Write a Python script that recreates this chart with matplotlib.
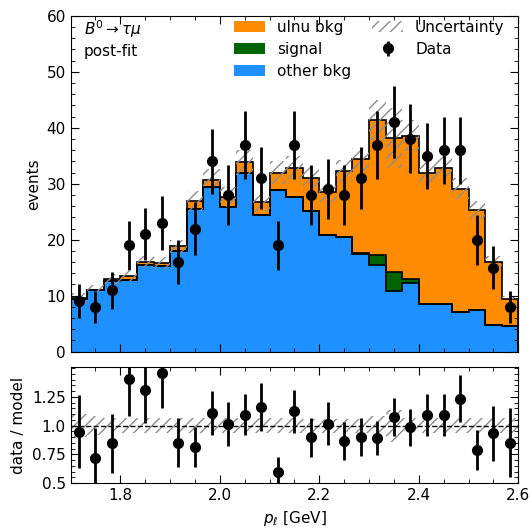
import numpy as np
import matplotlib
matplotlib.use('Agg')
import matplotlib.pyplot as plt
from matplotlib.ticker import MultipleLocator, FixedLocator, FixedFormatter

# binning in lepton momentum
edges = np.linspace(1.7, 2.6, 28)
centers = 0.5*(edges[:-1] + edges[1:])

other_bkg = [9.4, 11.0, 12.6, 12.8, 15.5, 15.3, 18.0, 25.4, 29.5, 25.8, 32.0, 24.4, 28.8, 27.7,
             25.2, 20.9, 20.5, 17.4, 15.4, 10.9, 12.3, 8.5, 8.5, 7.1, 7.4, 4.8, 4.5]
signal = [0, 0, 0, 0, 0, 0, 0, 0, 0, 0, 0, 0, 0, 0,
          0, 0, 0, 0.2, 1.9, 3.3, 0.7, 0.1, 0.1, 0.05, 0.05, 0, 0]
ulnu_bkg = [0.1, 0.1, 0.4, 0.7, 0.5, 0.5, 0.8, 1.5, 1.2, 1.9, 1.8, 2.3, 3.2, 5.2,
            5.9, 7.6, 11.8, 16.8, 24.1, 24.0, 25.6, 23.4, 24.3, 22.0, 17.9, 11.3, 4.9]
data = [9, 8, 11, 19, 21, 23, 16, 22, 34, 28, 37, 31, 19, 37,
        28, 29, 28, 31, 37, 41, 38, 35, 36, 36, 20, 15, 8]
rel_unc = [0.10, 0.08, 0.065, 0.065, 0.065, 0.065, 0.065, 0.065, 0.065, 0.065, 0.065, 0.065, 0.065, 0.065,
           0.06, 0.06, 0.06, 0.06, 0.085, 0.14, 0.07, 0.065, 0.065, 0.065, 0.065, 0.065, 0.065]

plt.rcParams['font.family'] = 'DejaVu Sans'
plt.rcParams['font.size'] = 11
plt.rcParams['hatch.linewidth'] = 1.0

other = np.array(other_bkg)
sig = np.array(signal)
ulnu = np.array(ulnu_bkg)
dat = np.array(data, dtype=float)
rel = np.array(rel_unc)

lvl1 = other
lvl2 = other + sig
total = lvl2 + ulnu

fig = plt.figure(figsize=(5.31, 5.28), dpi=100)
ax = fig.add_axes([0.133, 0.334, 0.843, 0.636])
rax = fig.add_axes([0.133, 0.085, 0.843, 0.22])

# stacked histogram
ax.stairs(total, edges, baseline=lvl2, fill=True, color='#FF8C00', label='ulnu bkg')
ax.stairs(lvl2, edges, baseline=lvl1, fill=True, color='#006400', label='signal')
ax.stairs(lvl1, edges, baseline=0, fill=True, color='#1E90FF', label='other bkg')
for lv in [lvl1, lvl2, total]:
    ax.stairs(lv, edges, color='black', lw=1.2)

# uncertainty band
lo = total*(1 - rel)
hi = total*(1 + rel)
ax.fill_between(edges, np.append(lo, lo[-1]), np.append(hi, hi[-1]), step='post',
                facecolor='none', edgecolor='#8c8c8c', hatch='///', linewidth=0, label='Uncertainty')

ax.errorbar(centers, dat, yerr=np.sqrt(dat), fmt='o', color='black', ms=7, elinewidth=2,
            capsize=0, label='Data')

ax.set_xlim(1.7, 2.6)
ax.set_ylim(0, 60)
ax.set_ylabel('events')
ax.yaxis.set_major_locator(MultipleLocator(10))
ax.yaxis.set_minor_locator(MultipleLocator(2))
ax.xaxis.set_major_locator(MultipleLocator(0.2))
ax.xaxis.set_minor_locator(MultipleLocator(0.05))
ax.tick_params(labelbottom=False)

ax.text(0.03, 0.993, r'$B^0 \to \tau\mu$', transform=ax.transAxes, va='top')
ax.text(0.03, 0.915, 'post-fit', transform=ax.transAxes, va='top')

h, l = ax.get_legend_handles_labels()
order = [l.index(n) for n in ['ulnu bkg', 'signal', 'other bkg', 'Uncertainty', 'Data']]
ax.legend([h[i] for i in order], [l[i] for i in order], ncol=2, frameon=False,
          loc='upper right', bbox_to_anchor=(0.99, 1.015), borderaxespad=0.2,
          handlelength=2.0, handleheight=0.7, columnspacing=1.4, labelspacing=0.45)

# ratio panel
ratio = dat/total
rerr = np.sqrt(dat)/total
rax.fill_between(edges, np.append(1 - rel, 1 - rel[-1]), np.append(1 + rel, 1 + rel[-1]), step='post',
                 facecolor='none', edgecolor='#8c8c8c', hatch='///', linewidth=0)
rax.axhline(1.0, color='black', ls='--', lw=1)
rax.errorbar(centers, ratio, yerr=rerr, fmt='o', color='black', ms=7, elinewidth=2, capsize=0)
rax.set_xlim(1.7, 2.6)
rax.set_ylim(0.5, 1.51)
rax.yaxis.set_major_locator(FixedLocator([0.5, 0.75, 1.0, 1.25]))
rax.yaxis.set_major_formatter(FixedFormatter(['0.5', '0.75', '1.0', '1.25']))
rax.yaxis.set_minor_locator(MultipleLocator(0.05))
rax.xaxis.set_major_locator(MultipleLocator(0.2))
rax.xaxis.set_minor_locator(MultipleLocator(0.05))
rax.set_ylabel('data / model')
rax.set_xlabel(r'$p_\ell$ [GeV]')

for a in [ax, rax]:
    a.tick_params(which='both', direction='in', top=True, right=True)
    a.tick_params(which='major', length=6)
    a.tick_params(which='minor', length=3)

fig.savefig('out.png', dpi=100)
